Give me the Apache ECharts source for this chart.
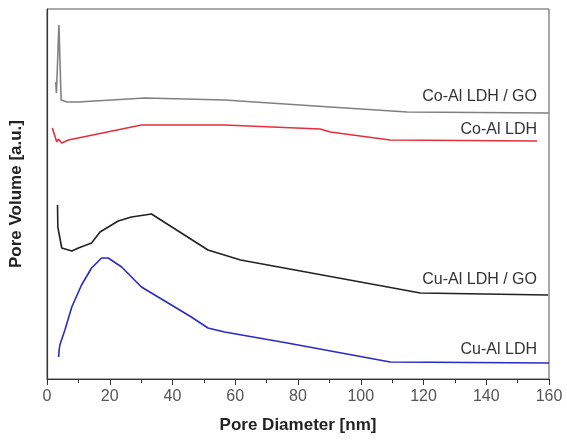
<!DOCTYPE html>
<html>
<head>
<meta charset="utf-8">
<script src="https://cdn.jsdelivr.net/npm/echarts@6/dist/echarts.min.js"></script>
<style>
  html, body { margin: 0; padding: 0; background: #fff; }
  #chart { width: 567px; height: 440px; }
</style>
</head>
<body>
<div id="chart"></div>
<script>
// pore diameter [nm] vs pore volume (arbitrary, stacked offsets)
var coAlGO = [
  [2.8, 297], [3.0, 286], [3.8, 354], [4.5, 279], [6.4, 277], [9.9, 277],
  [31.2, 281], [56.6, 279], [90.3, 272], [114.8, 267], [160, 266]
];
var coAl = [
  [1.7, 251], [3.1, 237], [3.6, 240], [4.7, 236], [6.8, 239], [30.1, 254],
  [56.6, 254], [87.1, 250], [90.3, 247], [109.4, 239], [156.2, 238]
];
var cuAlGO = [
  [3.35, 174], [3.45, 152], [3.7, 153], [4.7, 131], [7.9, 128], [10.0, 131],
  [14.2, 136], [16.9, 147], [22.7, 158], [26.9, 162], [33.3, 165],
  [51.3, 129], [61.7, 119], [119, 86], [159.7, 84]
];
var cuAl = [
  [3.7, 22], [3.9, 30], [4.1, 34], [5.7, 49], [7.9, 72], [11.0, 94],
  [14.2, 111], [17.4, 121], [19.5, 121], [23.8, 112], [30.1, 92],
  [38.6, 76], [46.0, 62], [51.3, 51], [56.6, 47], [76.6, 36], [109.4, 17], [160, 16]
];
var names = ['Co-Al LDH / GO', 'Co-Al LDH', 'Cu-Al LDH / GO', 'Cu-Al LDH'];
var colors = ['#808080', '#e3303c', '#222222', '#2a2ac4'];
var xTicks = [0, 20, 40, 60, 80, 100, 120, 140, 160];

var myChart = echarts.init(document.getElementById('chart'));

function line(name, data, color) {
  return {
    name: name,
    type: 'line',
    data: data,
    showSymbol: false,
    smooth: false,
    lineStyle: { color: color, width: 1.6 },
    animation: false
  };
}

var labelFont = '"Liberation Sans", Arial, sans-serif';
function tag(text, y) {
  return {
    type: 'text',
    right: 30,
    top: y,
    style: { text: text, font: '16px ' + labelFont, fill: '#333', textAlign: 'right' }
  };
}

myChart.setOption({
  backgroundColor: '#fff',
  grid: {
    left: 46, right: 18, top: 9, bottom: 61,
    show: true, borderColor: '#555', borderWidth: 1
  },
  xAxis: {
    type: 'value',
    min: 0, max: 160, interval: 20,
    name: 'Pore Diameter [nm]',
    nameLocation: 'middle',
    nameGap: 38,
    nameTextStyle: { fontFamily: labelFont, fontWeight: 'bold', fontSize: 17, color: '#222' },
    axisLine: { show: true, lineStyle: { color: '#333', width: 1.2 } },
    axisTick: { show: true, length: 6, lineStyle: { color: '#333' } },
    minorTick: { show: true, splitNumber: 2, length: 4, lineStyle: { color: '#333' } },
    axisLabel: {
      fontFamily: labelFont, fontSize: 16, color: '#555', margin: 10,
      formatter: function (v) { return xTicks.indexOf(v) >= 0 ? String(v) : ''; }
    },
    splitLine: { show: false }
  },
  yAxis: {
    type: 'value',
    min: 0, max: 370,
    name: 'Pore Volume [a.u.]',
    nameLocation: 'middle',
    nameGap: 22,
    nameTextStyle: { fontFamily: labelFont, fontWeight: 'bold', fontSize: 17, color: '#222' },
    axisLine: { show: true, lineStyle: { color: '#333', width: 1.2 } },
    axisTick: { show: false },
    axisLabel: { show: false },
    splitLine: { show: false }
  },
  series: [
    line(names[0], coAlGO, colors[0]),
    line(names[1], coAl, colors[1]),
    line(names[2], cuAlGO, colors[2]),
    line(names[3], cuAl, colors[3])
  ],
  graphic: [
    tag(names[0], 89),
    tag(names[1], 122),
    tag(names[2], 272),
    tag(names[3], 342)
  ]
});
</script>
</body>
</html>
